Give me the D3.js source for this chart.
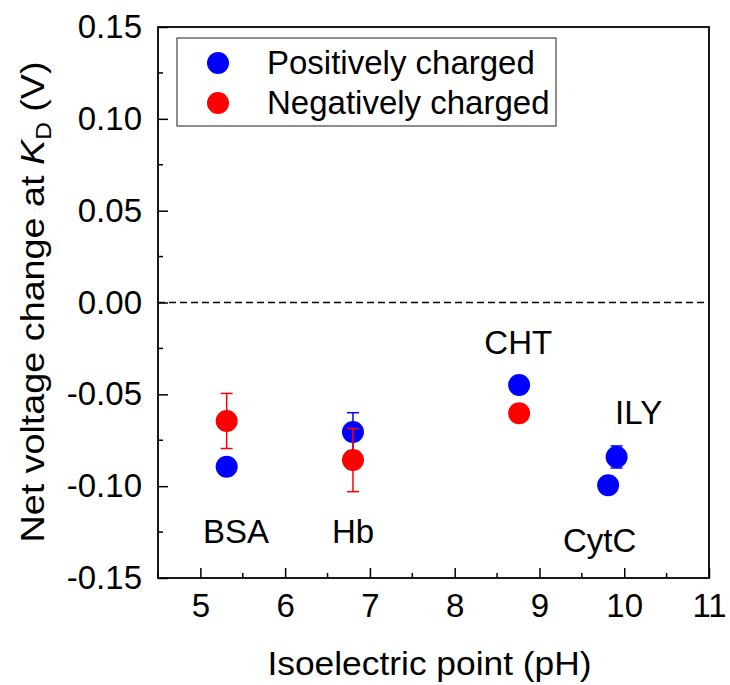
<!DOCTYPE html>
<html>
<head>
<meta charset="utf-8">
<script src="https://cdn.jsdelivr.net/npm/d3@7"></script>
<style>
  body { margin: 0; background: #fff; }
  text { font-family: "Liberation Sans", Arial, sans-serif; }
</style>
</head>
<body>
<div id="chart"></div>
<script>
// data
const proteins  = ["BSA", "Hb", "CHT", "CytC", "ILY"];
const pI        = [5.31, 6.80, 8.76, 9.81, 9.91];
const posValues = [-0.0894, -0.0705, -0.0449, -0.0995, -0.0841];
const posErr    = [0, 0.0105, 0, 0, 0.006];
const negProteins = ["BSA", "Hb", "CHT"];
const negPI       = [5.31, 6.80, 8.76];
const negValues   = [-0.0645, -0.0858, -0.0603];
const negErr      = [0.015, 0.0172, 0];
// label anchor points (data units)
const labelX = [5.42, 6.80, 8.75, 9.71, 10.17];
const labelY = [-0.131, -0.131, -0.028, -0.136, -0.066];

const xTicks = [5, 6, 7, 8, 9, 10, 11];
const yTicks = [-0.15, -0.10, -0.05, 0.00, 0.05, 0.10, 0.15];

const m = {top: 27, left: 158},
    w = 551,
    h = 551;

const svg = d3.select("#chart").append("svg")
    .attr("width", 730).attr("height", 685);
const g = svg.append("g").attr("transform", `translate(${m.left},${m.top})`);

const x = d3.scaleLinear().domain([4.5, 11]).range([0, w]);
const y = d3.scaleLinear().domain([-0.15, 0.15]).range([h, 0]);

const fs = 33;

// minor ticks
const xMinor = d3.range(4.5, 11.01, 0.5).filter(v => !xTicks.includes(v));
const yMinor = d3.range(-0.125, 0.15, 0.05);

g.append("g").selectAll("line").data(xMinor).join("line")
    .attr("x1", d => x(d)).attr("x2", d => x(d))
    .attr("y1", h).attr("y2", h - 5)
    .attr("stroke", "#000").attr("stroke-width", 1.5);
g.append("g").selectAll("line").data(yMinor).join("line")
    .attr("x1", 0).attr("x2", 5)
    .attr("y1", d => y(d)).attr("y2", d => y(d))
    .attr("stroke", "#000").attr("stroke-width", 1.5);

// x axis
const xAxis = g.append("g")
    .attr("transform", `translate(0,${h})`)
    .call(d3.axisBottom(x).tickValues(xTicks).tickSize(-10).tickPadding(16).tickFormat(d3.format("d")));
xAxis.select(".domain").remove();
xAxis.selectAll("line").attr("stroke-width", 1.5);
xAxis.selectAll("text").attr("font-size", fs).attr("fill", "#000")
    .attr("font-family", "Liberation Sans, Arial, sans-serif");

// y axis
const yAxis = g.append("g")
    .call(d3.axisLeft(y).tickValues(yTicks).tickSize(-10).tickPadding(16)
        .tickFormat(d => d3.format(".2f")(d).replace("\u2212", "-")));
yAxis.select(".domain").remove();
yAxis.selectAll("line").attr("stroke-width", 1.5);
yAxis.selectAll("text").attr("font-size", fs).attr("fill", "#000")
    .attr("font-family", "Liberation Sans, Arial, sans-serif");

// frame
g.append("rect").attr("x", 0).attr("y", 0).attr("width", w).attr("height", h)
    .attr("fill", "none").attr("stroke", "#000").attr("stroke-width", 1.8);

// zero line
g.append("line")
    .attr("x1", 0).attr("x2", w).attr("y1", y(0)).attr("y2", y(0))
    .attr("stroke", "#000").attr("stroke-width", 1.5).attr("stroke-dasharray", "7,4");

function drawSeries(xs, vals, errs, color) {
  const data = xs.map((d, i) => ({x: d, v: vals[i], e: errs[i]}));
  const eb = g.append("g").selectAll("g").data(data.filter(d => d.e > 0)).join("g")
      .attr("stroke", color).attr("stroke-width", 1.5);
  eb.append("line")
      .attr("x1", d => x(d.x)).attr("x2", d => x(d.x))
      .attr("y1", d => y(d.v - d.e)).attr("y2", d => y(d.v + d.e));
  eb.append("line")
      .attr("x1", d => x(d.x) - 6).attr("x2", d => x(d.x) + 6)
      .attr("y1", d => y(d.v + d.e)).attr("y2", d => y(d.v + d.e));
  eb.append("line")
      .attr("x1", d => x(d.x) - 6).attr("x2", d => x(d.x) + 6)
      .attr("y1", d => y(d.v - d.e)).attr("y2", d => y(d.v - d.e));
  g.append("g").selectAll("circle").data(data).join("circle")
      .attr("cx", d => x(d.x)).attr("cy", d => y(d.v))
      .attr("r", 11).attr("fill", color);
}

drawSeries(pI, posValues, posErr, "#0000ff");
drawSeries(negPI, negValues, negErr, "#ff0000");

// protein labels
g.append("g").selectAll("text").data(proteins).join("text")
    .attr("x", (d, i) => x(labelX[i])).attr("y", (d, i) => y(labelY[i]))
    .attr("text-anchor", "middle").attr("font-size", fs).attr("fill", "#000")
    .text(d => d);

// legend
const leg = svg.append("g");
leg.append("rect").attr("x", 177).attr("y", 38).attr("width", 379).attr("height", 88)
    .attr("fill", "#fff").attr("stroke", "#444").attr("stroke-width", 1.2);
const legItems = [{name: "Positively charged", color: "#0000ff"},
                  {name: "Negatively charged", color: "#ff0000"}];
legItems.forEach((d, i) => {
  leg.append("circle").attr("cx", 218).attr("cy", 63 + i * 40).attr("r", 11).attr("fill", d.color);
  leg.append("text").attr("x", 267).attr("y", 74 + i * 40)
      .attr("font-size", fs).attr("fill", "#000").text(d.name);
});

// axis titles
svg.append("text")
    .attr("transform", `translate(${m.left + w / 2 - 4},675) scale(1.04,1)`)
    .attr("text-anchor", "middle").attr("font-size", fs + 1).attr("fill", "#000")
    .text("Isoelectric point (pH)");

const yt = svg.append("text")
    .attr("transform", "translate(44,302) rotate(-90) scale(1.11,1)")
    .attr("text-anchor", "middle").attr("font-size", fs + 1).attr("fill", "#000");
yt.append("tspan").text("Net voltage change at ");
yt.append("tspan").attr("font-style", "italic").text("K");
yt.append("tspan").attr("font-size", 22).attr("dy", 7).text("D");
yt.append("tspan").attr("dy", -7).text(" (V)");
</script>
</body>
</html>
